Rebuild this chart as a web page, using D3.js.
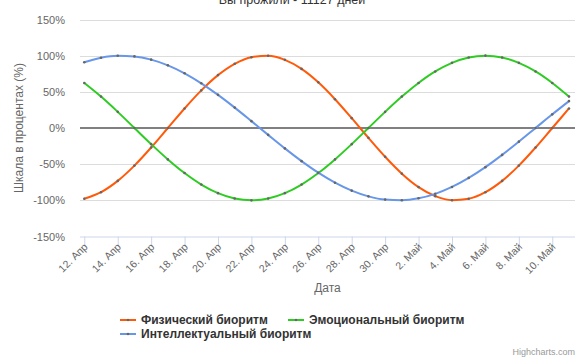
<!DOCTYPE html>
<html><head><meta charset="utf-8">
<script src="https://cdn.jsdelivr.net/npm/d3@7"></script>
<style>body{margin:0;background:#fff}svg{display:block;font-family:"Liberation Sans",Arial,sans-serif}</style>
</head><body><svg id="c" width="581" height="358"></svg>
<script>
const chartTitle = "Вы прожили - 11127 дней";
const dates = ["2015-04-12","2015-04-13","2015-04-14","2015-04-15","2015-04-16","2015-04-17","2015-04-18","2015-04-19","2015-04-20","2015-04-21",
  "2015-04-22","2015-04-23","2015-04-24","2015-04-25","2015-04-26","2015-04-27","2015-04-28","2015-04-29","2015-04-30","2015-05-01",
  "2015-05-02","2015-05-03","2015-05-04","2015-05-05","2015-05-06","2015-05-07","2015-05-08","2015-05-09","2015-05-10","2015-05-11"];
const physical = [-97.9,-88.8,-73.1,-52.0,-27.0,0,27.0,52.0,73.1,88.8,97.9,99.8,94.2,81.7,63.1,39.8,13.6,-13.6,-39.8,-63.1,-81.7,-94.2,-99.8,-97.9,-88.8,-73.1,-52.0,-27.0,0,27.0];
const emotional = [62.3,43.4,22.3,0,-22.3,-43.4,-62.3,-78.2,-90.1,-97.5,-100,-97.5,-90.1,-78.2,-62.3,-43.4,-22.3,0,22.3,43.4,62.3,78.2,90.1,97.5,100,97.5,90.1,78.2,62.3,43.4];
const intellectual = [91.0,97.2,99.9,99.0,94.5,86.6,75.6,61.8,45.8,28.2,9.5,-9.5,-28.2,-45.8,-61.8,-75.6,-86.6,-94.5,-99.0,-99.9,-97.2,-91.0,-81.5,-69.0,-54.1,-37.2,-18.9,0,18.9,37.2];
const seriesNames = ["Физический биоритм","Эмоциональный биоритм","Интеллектуальный биоритм"];
const yTicks = [-150,-100,-50,0,50,100,150];
const monthNames = ["Янв","Фев","Мар","Апр","Май","Июн","Июл","Авг","Сен","Окт","Ноя","Дек"];
const xTitle = "Дата";
const yTitle = "Шкала в процентах (%)";
const credits = "Highcharts.com";

const colors = ["#ff5a0a","#2ecc23","#6896e8"];
const svg = d3.select("#c");
const parse = d3.utcParse("%Y-%m-%d");
const dts = dates.map(parse);
const DAY = 864e5;
const L = 80, R = 575, T = 19.5, B = 236.5;
const x = d3.scaleUtc().domain([new Date(+dts[0] - 0.257*DAY), new Date(+dts[dts.length-1] + 0.36*DAY)]).range([L, R]);
const y = d3.scaleLinear().domain([-150,150]).range([B, T]);

// title
svg.append("text").attr("x", 292).attr("y", 4).attr("text-anchor","middle")
  .attr("font-size", 12.5).attr("fill","#333").text(chartTitle);

// grid
svg.append("g").selectAll("line").data(yTicks.filter(t => t !== -150)).join("line")
  .attr("x1", L).attr("x2", R).attr("y1", d => Math.round(y(d))+0.5).attr("y2", d => Math.round(y(d))+0.5)
  .attr("stroke", "#dcdcdc").attr("stroke-width", 1);

// y labels
svg.append("g").selectAll("text").data(yTicks).join("text")
  .attr("x", 65).attr("y", d => y(d) + 4).attr("text-anchor","end")
  .attr("font-size", 11).attr("fill", "#666").text(d => d + "%");

// y title
svg.append("text").attr("transform", `translate(23,${(T+B)/2}) rotate(-90)`).attr("text-anchor","middle")
  .attr("font-size", 12).attr("fill","#666").text(yTitle);

// x axis
const tickDates = dts.filter((d,i) => i % 2 === 0);
const xAxis = d3.axisBottom(x).tickValues(tickDates).tickSize(10).tickFormat(() => "");
const gx = svg.append("g").attr("transform", `translate(0,${B})`).call(xAxis);
gx.select(".domain").attr("stroke","#ccd6eb").attr("d", `M${L},0.5H${R}`);
gx.selectAll(".tick line").attr("stroke","#ccd6eb");
svg.append("g").selectAll("text").data(tickDates).join("text")
  .attr("transform", d => `translate(${x(d)+4},${B+11}) rotate(-45)`)
  .attr("text-anchor","end").attr("font-size", 10.5).attr("fill","#666")
  .text(d => d.getUTCDate() + ". " + monthNames[d.getUTCMonth()]);

svg.append("text").attr("x", (L+R)/2).attr("y", 292).attr("text-anchor","middle")
  .attr("font-size", 12).attr("fill","#666").text(xTitle);

// zero line
svg.append("line").attr("x1", L).attr("x2", R).attr("y1", y(0)).attr("y2", y(0))
  .attr("stroke", "#808080").attr("stroke-width", 2);

// series
const all = [physical, emotional, intellectual];
const line = d3.line().x((d,i) => x(dts[i])).y(d => y(d)).curve(d3.curveMonotoneX);
all.forEach((s, k) => {
  const g = svg.append("g");
  g.append("path").attr("d", line(s)).attr("fill","none").attr("stroke", colors[k]).attr("stroke-width", 2);
  g.selectAll("circle").data(s).join("circle")
    .attr("cx", (d,i) => x(dts[i])).attr("cy", d => y(d)).attr("r", 1.3).attr("fill", "#666");
});

// legend
const legendPos = [[120, 320], [288, 320], [120, 334]];
seriesNames.forEach((n, k) => {
  const [lx, ly] = legendPos[k];
  const g = svg.append("g");
  g.append("line").attr("x1", lx).attr("x2", lx+16).attr("y1", ly).attr("y2", ly).attr("stroke", colors[k]).attr("stroke-width", 2);
  g.append("circle").attr("cx", lx+8).attr("cy", ly).attr("r", 1.3).attr("fill", "#666");
  g.append("text").attr("x", lx+21).attr("y", ly+4).attr("font-size", 12).attr("font-weight","bold").attr("fill","#333").text(n);
});

svg.append("text").attr("x", 575).attr("y", 355).attr("text-anchor","end")
  .attr("font-size", 9).attr("fill","#999").text(credits);
</script></body></html>
